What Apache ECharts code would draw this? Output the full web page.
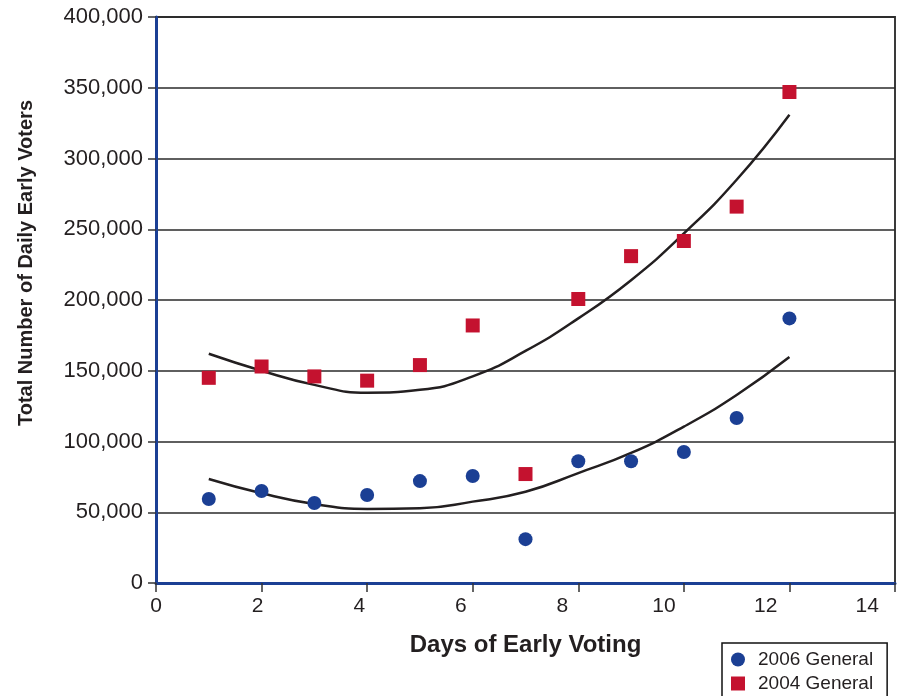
<!DOCTYPE html>
<html>
<head>
<meta charset="utf-8">
<script src="https://cdn.jsdelivr.net/npm/echarts@6/dist/echarts.min.js"></script>
<style>
html,body{margin:0;padding:0;background:#fff;}
#chart{width:899px;height:696px;}
</style>
</head>
<body>
<div id="chart"></div>
<script>
// Days of early voting
var days = [1, 2, 3, 4, 5, 6, 7, 8, 9, 10, 11, 12];
// Daily early voters, 2006 General
var votes2006 = [59400, 65000, 56500, 62200, 72000, 75600, 31000, 86000, 86000, 92600, 116600, 187000];
// Daily early voters, 2004 General
var votes2004 = [145000, 153000, 146000, 143000, 154000, 182000, 77000, 200700, 231000, 241700, 266000, 347000];
// Trend lines
var trendDays = [1, 2, 3, 4, 5, 6, 7, 8, 9, 10, 11, 12];
var trend2006 = [73500, 63400, 55800, 52300, 52800, 57500, 64500, 77700, 91900, 110500, 132900, 159700];
var trend2004 = [162000, 150000, 140000, 134500, 136500, 146000, 164000, 187000, 214000, 247000, 285000, 331000];
// Axis ticks
var xTicks = [0, 2, 4, 6, 8, 10, 12, 14];
var yTicks = [0, 50000, 100000, 150000, 200000, 250000, 300000, 350000, 400000];

function pairs(xs, ys) { return xs.map(function (x, i) { return [x, ys[i]]; }); }

var FONT = "'Liberation Sans', Arial, Helvetica, sans-serif";
var TXT = '#231f20';
var BLUE = '#1b3f94';
var RED = '#c4122f';
var xMax = xTicks[xTicks.length - 1];

var chart = echarts.init(document.getElementById('chart'), null, {renderer: 'canvas'});
chart.setOption({
  animation: false,
  backgroundColor: '#fff',
  textStyle: {fontFamily: FONT},
  grid: {left: 156, right: 4, top: 17, bottom: 113, show: true, borderColor: '#3a3a3a', borderWidth: 2,
    backgroundColor: 'transparent', outerBoundsMode: 'none', containLabel: false},
  xAxis: [{
    type: 'value', min: xTicks[0], max: xMax, interval: 2,
    name: 'Days of Early Voting', nameLocation: 'middle', nameGap: 50,
    nameTextStyle: {fontFamily: FONT, fontSize: 24, fontWeight: 'bold', color: TXT},
    axisLine: {show: true, onZero: false, lineStyle: {color: BLUE, width: 3}},
    axisTick: {show: true, length: 9, lineStyle: {color: '#333', width: 1.5}},
    axisLabel: {show: false},
    splitLine: {show: false}
  }, {
    // label row only (the printed labels sit at a slightly tighter pitch than the ticks)
    type: 'value', position: 'bottom', min: xTicks[0], max: xMax * 1.039, interval: 2,
    axisLine: {show: false}, axisTick: {show: false}, splitLine: {show: false},
    axisLabel: {fontFamily: FONT, fontSize: 21, color: TXT, margin: 13, showMaxLabel: false,
      formatter: function (v) { return xTicks.indexOf(v) >= 0 ? String(v) : ''; }}
  }],
  yAxis: {
    type: 'value', min: yTicks[0], max: yTicks[yTicks.length - 1], interval: 50000,
    axisLine: {show: true, onZero: false, lineStyle: {color: BLUE, width: 3}},
    axisTick: {show: true, length: 8, lineStyle: {color: '#333', width: 1.5}},
    axisLabel: {fontFamily: FONT, fontSize: 22, color: TXT, margin: 13,
      formatter: function (v) { return v.toString().replace(/\B(?=(\d{3})+(?!\d))/g, ','); }},
    splitLine: {show: true, lineStyle: {color: '#2a2a2a', width: 1.5}}
  },
  legend: {
    left: 722, top: 643, height: 120, orient: 'vertical',
    data: [{name: '2006 General', icon: 'circle'}, {name: '2004 General', icon: 'rect'}],
    itemWidth: 14, itemHeight: 14, itemGap: 5,
    padding: [7, 14, 12, 9],
    borderColor: '#111', borderWidth: 1.5, backgroundColor: '#fff',
    textStyle: {fontFamily: FONT, fontSize: 19, color: TXT, padding: [0, 0, 0, 8]}
  },
  graphic: [{
    type: 'text', left: 16, top: 100, rotation: Math.PI / 2,
    style: {text: 'Total Number of Daily Early Voters', font: 'bold 20px ' + FONT, fill: TXT}
  }],
  series: [
    {name: 'trend2006', type: 'line', data: pairs(trendDays, trend2006), smooth: true, showSymbol: false,
      lineStyle: {color: '#231f20', width: 2.5}, silent: true, z: 1},
    {name: 'trend2004', type: 'line', data: pairs(trendDays, trend2004), smooth: true, showSymbol: false,
      lineStyle: {color: '#231f20', width: 2.5}, silent: true, z: 1},
    {name: '2006 General', type: 'scatter', symbol: 'circle', symbolSize: 14,
      itemStyle: {color: BLUE, opacity: 1}, data: pairs(days, votes2006), z: 3},
    {name: '2004 General', type: 'scatter', symbol: 'rect', symbolSize: 14,
      itemStyle: {color: RED, opacity: 1}, data: pairs(days, votes2004), z: 3}
  ]
});
</script>
</body>
</html>
